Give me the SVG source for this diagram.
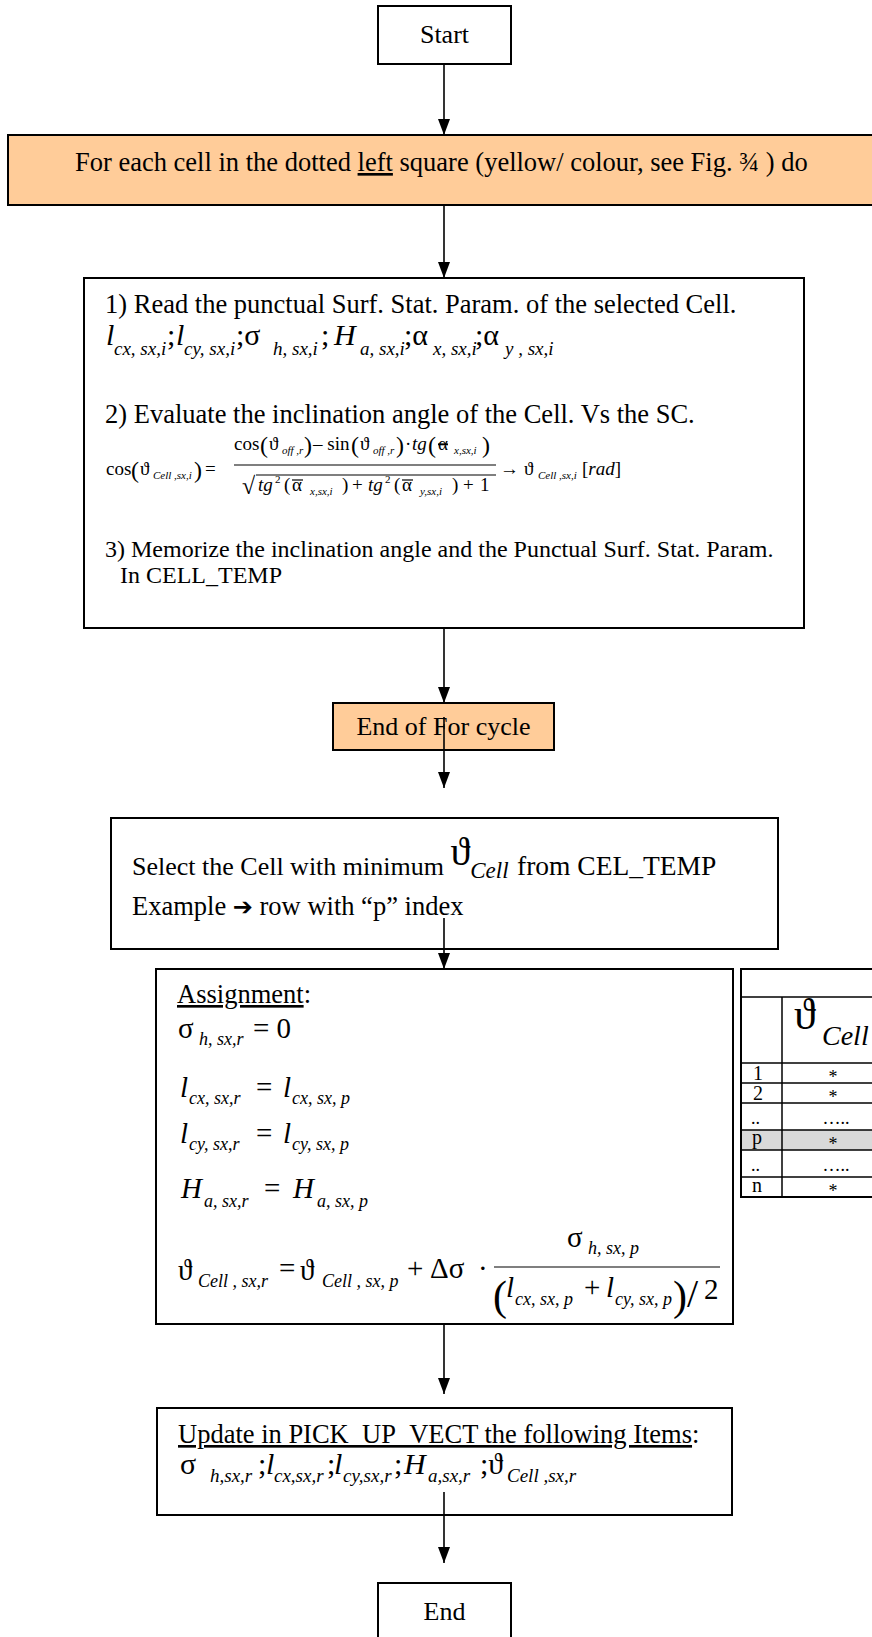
<svg xmlns="http://www.w3.org/2000/svg" width="872" height="1637" viewBox="0 0 872 1637">
<defs>
<style>
.bx{fill:#fff;stroke:#000;stroke-width:2}
.pc{fill:#FFCC99;stroke:#000;stroke-width:2}
text{font-family:"Liberation Serif","Times New Roman","DejaVu Serif",serif;fill:#000}
.t{font-size:26.5px}
.t26{font-size:26px}
.i{font-style:italic}
.m{font-size:30px}
.s{font-size:19px;font-style:italic}
.f{font-size:19px}
.fs{font-size:11px;font-style:italic}
.fp{font-size:24px}
.a{font-size:29px}
.as{font-size:18px;font-style:italic}
.u{text-decoration:underline}
.ln{stroke:#000;stroke-width:1.2}
.tl{stroke:#000;stroke-width:1.5;fill:none}
.rt{font-size:20px}
.st{font-size:18px}
.conn line{stroke:#000;stroke-width:1.6}
</style>
<marker id="ar" viewBox="0 0 16 12" refX="16" refY="6" markerWidth="16" markerHeight="12" markerUnits="userSpaceOnUse" orient="auto">
<path d="M0,0 L16,6 L0,12 z" fill="#000"/>
</marker>
</defs>
<rect width="872" height="1637" fill="#fff"/>

<g id="start">
<rect class="bx" x="378" y="6" width="133" height="58"/>
<text class="t26" x="444.5" y="43" text-anchor="middle">Start</text>
</g>

<g id="for-each">
<rect class="pc" x="8" y="135" width="880" height="70"/>
<text class="t" x="75" y="171">For each cell in the dotted <tspan class="u">left</tspan> square (yellow/ colour, see Fig. ¾ ) do</text>
</g>

<g id="process-cell">
<rect class="bx" x="84" y="278" width="720" height="350"/>
<text class="t" x="105" y="313">1) Read the punctual Surf. Stat. Param. of the selected Cell.</text>
<text class="m i" x="106" y="345">l</text><text class="s" x="114" y="355">cx, sx,i</text>
<text class="m" x="167" y="345">;</text><text class="m i" x="176" y="345">l</text><text class="s" x="184" y="355">cy, sx,i</text>
<text class="m" x="236" y="345">;σ</text><text class="s" x="273" y="355">h, sx,i</text>
<text class="m" x="321" y="345">;</text><text class="m i" x="334" y="345">H</text><text class="s" x="360" y="355">a, sx,i</text>
<text class="m" x="404" y="345">;α</text><text class="s" x="433" y="355">x, sx,i</text>
<text class="m" x="475" y="345">;α</text><text class="s" x="505" y="355">y , sx,i</text>

<text class="t" x="105" y="423">2) Evaluate the inclination angle of the Cell. Vs the SC.</text>
<text class="f" x="106" y="475">cos</text><text class="fp" x="131" y="478">(</text><text class="f" x="140" y="475">ϑ</text><text class="fs" x="153" y="479">Cell ,sx,i</text><text class="fp" x="194" y="478">)</text><text class="f" x="205" y="475">=</text>
<text class="f" x="234" y="450">cos</text><text class="fp" x="260" y="453">(</text><text class="f" x="269" y="450">ϑ</text><text class="fs" x="282" y="454">off ,r</text><text class="fp" x="304" y="453">)</text>
<text class="f" x="313" y="450">– sin</text><text class="fp" x="351" y="453">(</text><text class="f" x="360" y="450">ϑ</text><text class="fs" x="373" y="454">off ,r</text><text class="fp" x="396" y="453">)</text>
<text class="f" x="405" y="450">·</text><text class="f i" x="412" y="450">tg</text><text class="fp" x="428" y="453">(</text><text class="f" x="438" y="450" style="text-decoration:line-through">α</text><text class="fs" x="454" y="454">x,sx,i</text><text class="fp" x="482" y="453">)</text>
<line class="ln" x1="234" y1="465" x2="496" y2="465"/>
<text class="fp" x="242" y="494">√</text>
<line class="ln" x1="256" y1="475" x2="496" y2="475"/>
<text class="f i" x="258" y="491">tg</text><text class="fs" x="275" y="483" style="font-style:normal">2</text><text class="f" x="284" y="491">(</text><text class="f" x="292" y="491">α</text><line class="ln" x1="292" y1="480" x2="303" y2="480"/><text class="fs" x="310" y="495">x,sx,i</text><text class="f" x="342" y="491">)</text>
<text class="f" x="352" y="491">+</text><text class="f i" x="368" y="491">tg</text><text class="fs" x="385" y="483" style="font-style:normal">2</text><text class="f" x="394" y="491">(</text><text class="f" x="402" y="491">α</text><line class="ln" x1="402" y1="480" x2="413" y2="480"/><text class="fs" x="420" y="495">y,sx,i</text><text class="f" x="452" y="491">)</text>
<text class="f" x="463" y="491">+</text><text class="f" x="480" y="491">1</text>
<text class="f" x="500" y="475">→</text><text class="f" x="524" y="475">ϑ</text><text class="fs" x="538" y="479">Cell ,sx,i</text><text class="f" x="582" y="475">[<tspan class="i">rad</tspan>]</text>

<text x="105" y="557" font-size="24">3) Memorize the inclination angle and the Punctual Surf. Stat. Param.</text>
<text x="120" y="583" font-size="24">In CELL_TEMP</text>
</g>

<g id="end-for">
<rect class="pc" x="333" y="703" width="221" height="47"/>
<text class="t26" x="443.5" y="735" text-anchor="middle">End of For cycle</text>
</g>

<g id="select-min">
<rect class="bx" x="111" y="818" width="667" height="131"/>
<text class="t26" x="132" y="875">Select the Cell with minimum <tspan font-size="40" dy="-10">ϑ</tspan><tspan class="i" font-size="23" dy="13">Cell</tspan><tspan font-size="27.5" dy="-3" x="517">from CEL_TEMP</tspan></text>
<text class="t" x="132" y="915">Example <tspan style="font-family:'DejaVu Sans',sans-serif" font-size="24">➔</tspan> row with “p” index</text>
</g>

<g id="assignment">
<rect class="bx" x="156" y="969" width="577" height="355"/>
<text class="t" x="177" y="1003"><tspan class="u">Assignment</tspan>:</text>
<text class="a" x="178" y="1038">σ</text><text class="as" x="199" y="1045">h, sx,r</text><text class="a" x="253" y="1038">= 0</text>
<text class="a i" x="180" y="1097">l</text><text class="as" x="189" y="1104">cx, sx,r</text><text class="a" x="256" y="1097">=</text><text class="a i" x="283" y="1097">l</text><text class="as" x="292" y="1104">cx, sx, p</text>
<text class="a i" x="180" y="1143">l</text><text class="as" x="189" y="1150">cy, sx,r</text><text class="a" x="256" y="1143">=</text><text class="a i" x="283" y="1143">l</text><text class="as" x="292" y="1150">cy, sx, p</text>
<text class="a i" x="181" y="1198">H</text><text class="as" x="204" y="1207">a, sx,r</text><text class="a" x="264" y="1198">=</text><text class="a i" x="293" y="1198">H</text><text class="as" x="317" y="1207">a, sx, p</text>
<text class="a" x="178" y="1280" font-size="31">ϑ</text><text class="as" x="198" y="1287">Cell , sx,r</text><text class="a" x="279" y="1278">=</text><text class="a" x="300" y="1280" font-size="31">ϑ</text><text class="as" x="322" y="1287">Cell , sx, p</text>
<text class="a" x="407" y="1278">+</text><text class="a" x="430" y="1278">Δσ</text><text class="a" x="478" y="1278">·</text>
<text class="a" x="567" y="1247">σ</text><text class="as" x="588" y="1254">h, sx, p</text>
<line class="ln" x1="494" y1="1267" x2="720" y2="1267"/>
<text font-size="42" x="493" y="1310">(</text><text class="a i" x="506" y="1297">l</text><text class="as" x="515" y="1305">cx, sx, p</text><text class="a" x="584" y="1297">+</text><text class="a i" x="606" y="1297">l</text><text class="as" x="615" y="1305">cy, sx, p</text><text font-size="42" x="673" y="1310">)</text><text font-size="40" x="687" y="1307">/</text><text class="a" x="704" y="1299">2</text>
</g>

<g id="cell-table">
<rect x="741" y="1130" width="150" height="20" fill="#D9D9D9"/>
<rect class="tl" x="741" y="969" width="150" height="228" style="stroke-width:2"/>
<line class="tl" x1="741" y1="997" x2="891" y2="997"/>
<line class="tl" x1="741" y1="1063" x2="891" y2="1063"/>
<line class="tl" x1="741" y1="1083" x2="891" y2="1083"/>
<line class="tl" x1="741" y1="1103" x2="891" y2="1103"/>
<line class="tl" x1="741" y1="1130" x2="891" y2="1130"/>
<line class="tl" x1="741" y1="1150" x2="891" y2="1150"/>
<line class="tl" x1="741" y1="1177" x2="891" y2="1177"/>
<line class="tl" x1="782" y1="997" x2="782" y2="1197"/>
<text x="794" y="1029" font-size="44">ϑ</text><text x="822" y="1045" font-size="28" class="i">Cell</text>
<text class="rt" x="753" y="1080">1</text><text class="st" x="833" y="1083" text-anchor="middle">*</text>
<text class="rt" x="753" y="1100">2</text><text class="st" x="833" y="1103" text-anchor="middle">*</text>
<text class="st" x="751" y="1124">..</text><text class="st" x="836" y="1124" text-anchor="middle">…..</text>
<text class="rt" x="752" y="1144">p</text><text class="st" x="833" y="1150" text-anchor="middle">*</text>
<text class="st" x="751" y="1171">..</text><text class="st" x="836" y="1171" text-anchor="middle">…..</text>
<text class="rt" x="752" y="1192">n</text><text class="st" x="833" y="1197" text-anchor="middle">*</text>
</g>

<g id="update">
<rect class="bx" x="157" y="1408" width="575" height="107"/>
<text class="t" x="178" y="1443"><tspan class="u">Update in PICK_UP_VECT the following Items</tspan>:</text>
<text class="m" x="180" y="1474" font-size="29">σ</text><text class="s" x="210" y="1482" font-size="18">h,sx,r</text>
<text class="m" x="258" y="1474" font-size="29">;</text><text class="m i" x="266" y="1474" font-size="29">l</text><text class="s" x="274" y="1482" font-size="18">cx,sx,r</text>
<text class="m" x="327" y="1474" font-size="29">;</text><text class="m i" x="334" y="1474" font-size="29">l</text><text class="s" x="343" y="1482" font-size="18">cy,sx,r</text>
<text class="m" x="394" y="1474" font-size="29">;</text><text class="m i" x="404" y="1474" font-size="29">H</text><text class="s" x="428" y="1482" font-size="18">a,sx,r</text>
<text class="m" x="480" y="1474" font-size="29">;ϑ</text><text class="s" x="507" y="1482" font-size="18">Cell ,sx,r</text>
</g>

<g id="end">
<rect class="bx" x="378" y="1583" width="133" height="70"/>
<text class="t26" x="444.5" y="1620" text-anchor="middle">End</text>
</g>

<g class="conn" id="connectors">
<line x1="444" y1="64" x2="444" y2="135" marker-end="url(#ar)"/>
<line x1="444" y1="205" x2="444" y2="278" marker-end="url(#ar)"/>
<line x1="444" y1="628" x2="444" y2="703" marker-end="url(#ar)"/>
<line x1="444" y1="717" x2="444" y2="788" marker-end="url(#ar)"/>
<line x1="444" y1="918" x2="444" y2="969" marker-end="url(#ar)"/>
<line x1="444" y1="1324" x2="444" y2="1394" marker-end="url(#ar)"/>
<line x1="444" y1="1492" x2="444" y2="1563" marker-end="url(#ar)"/>
</g>
</svg>
